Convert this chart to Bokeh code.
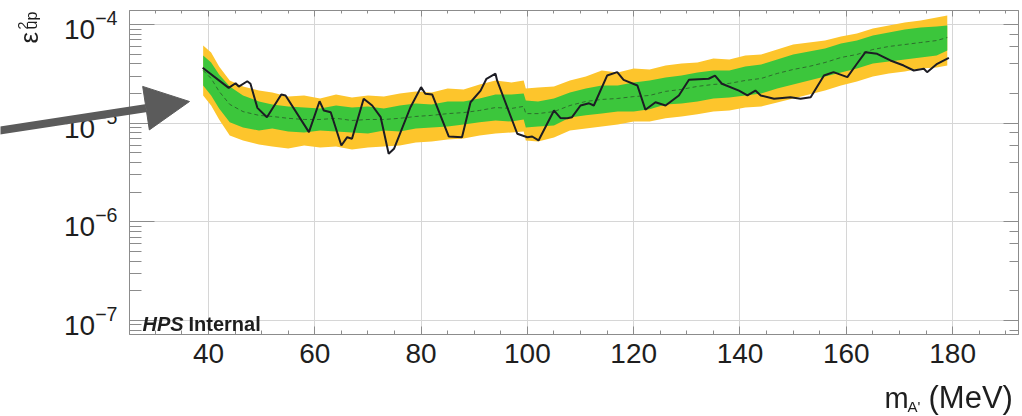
import numpy as np
from bokeh.plotting import figure
from bokeh.models import (LinearAxis, SingleIntervalTicker, LogTicker, CustomJSTickFormatter,
                          Label, Arrow, NormalHead, Range1d)
from bokeh.embed import file_html
from bokeh.resources import INLINE

# ---------------- data (epsilon^2 values in units of 1e-5) ----------------
mass_exp = [39.0, 40.5, 42.0, 44.0, 46.5, 49.5, 52.0, 55.0, 58.0, 61.0, 64.0, 67.0,
            70.0, 73.0, 76.0, 79.0, 82.0, 85.0, 88.0, 91.0, 94.0, 97.0, 99.3, 99.7,
            102.0, 105.0, 108.0, 111.0, 114.0, 117.0, 120.0, 123.0, 126.0, 129.0,
            132.0, 135.0, 138.0, 141.0, 144.0, 147.0, 150.0, 153.0, 156.0, 159.0,
            162.0, 165.0, 168.0, 171.0, 174.0, 177.0, 179.0]
yellow_hi = [6.13, 5.20, 3.76, 2.71, 2.36, 2.14, 2.05, 1.86, 1.91, 1.78, 1.95, 1.82,
             1.91, 1.86, 2.00, 2.10, 2.05, 2.25, 2.20, 2.47, 2.71, 2.59, 2.71, 2.25,
             2.30, 2.36, 2.71, 2.97, 3.42, 3.27, 3.59, 3.50, 3.84, 4.03,
             4.12, 4.53, 4.42, 4.85, 4.97, 5.58, 6.27, 6.57, 6.88, 7.56,
             8.11, 9.11, 9.77, 10.48, 10.98, 11.78, 12.34]
green_hi = [4.85, 4.12, 3.12, 2.36, 1.91, 1.66, 1.55, 1.48, 1.44, 1.41, 1.51, 1.44,
            1.48, 1.41, 1.51, 1.58, 1.55, 1.66, 1.66, 1.78, 1.95, 1.95, 2.00, 1.70,
            1.66, 1.78, 2.05, 2.25, 2.41, 2.41, 2.59, 2.71, 2.91, 3.04,
            3.27, 3.42, 3.42, 3.76, 3.94, 4.42, 4.97, 5.33, 5.71, 6.42,
            6.88, 7.74, 8.30, 8.90, 9.33, 9.55, 9.77]
median = [3.42, 2.84, 2.10, 1.55, 1.31, 1.20, 1.17, 1.12, 1.09, 1.09, 1.12, 1.065,
          1.09, 1.09, 1.12, 1.17, 1.20, 1.25, 1.28, 1.345, 1.44, 1.41, 1.48, 1.25,
          1.25, 1.31, 1.51, 1.66, 1.74, 1.78, 1.86, 1.91, 2.10, 2.20,
          2.36, 2.47, 2.53, 2.71, 2.84, 3.19, 3.50, 3.76, 4.12, 4.63,
          4.97, 5.58, 5.99, 6.27, 6.57, 6.88, 7.39]
green_lo = [2.41, 1.91, 1.41, 1.02, 0.905, 0.843, 0.884, 0.824, 0.805, 0.843, 0.824, 0.805,
            0.786, 0.843, 0.824, 0.884, 0.905, 0.926, 0.97, 1.02, 1.065, 1.04, 1.09, 0.905,
            0.926, 0.948, 1.14, 1.20, 1.25, 1.31, 1.31, 1.38, 1.55, 1.58,
            1.66, 1.78, 1.82, 1.91, 2.00, 2.25, 2.47, 2.71, 2.97, 3.27,
            3.59, 4.03, 4.22, 4.42, 4.63, 4.85, 5.45]
yellow_lo = [1.91, 1.51, 1.09, 0.750, 0.668, 0.608, 0.581, 0.554, 0.594, 0.567, 0.581, 0.541,
             0.567, 0.581, 0.594, 0.637, 0.652, 0.684, 0.700, 0.750, 0.786, 0.805, 0.824, 0.668,
             0.652, 0.716, 0.843, 0.884, 0.926, 0.97, 1.04, 1.04, 1.12, 1.17,
             1.23, 1.31, 1.345, 1.44, 1.48, 1.62, 1.78, 1.95, 2.14, 2.41,
             2.65, 2.97, 3.19, 3.34, 3.59, 3.67, 3.84]

mass_obs = [38.9, 43.8, 45.1, 45.7, 47.3, 47.9, 49.2, 51.0, 53.7, 54.5, 58.9, 60.9,
            61.7, 63.0, 65.0, 66.1, 67.0, 69.2, 70.8, 72.4, 73.9, 74.9, 78.0, 80.0,
            80.8, 82.1, 85.2, 87.7, 89.3, 91.2, 92.3, 94.0, 94.3, 98.1, 100.0, 100.9,
            102.1, 105.0, 106.2, 107.5, 108.4, 110.0, 111.6, 112.5, 115.0, 116.9, 118.1,
            120.7, 122.2, 124.1, 126.0, 128.5, 130.4, 134.1, 135.3, 136.6, 139.8,
            141.4, 142.9, 143.9, 146.4, 149.5, 151.4, 153.3, 155.8, 157.6, 160.2,
            162.0, 163.6, 165.8, 168.3, 170.8, 172.7, 174.6, 175.2, 177.1, 179.3]
observed = [3.64, 2.28, 2.54, 2.35, 2.66, 2.51, 1.43, 1.15, 1.95, 1.91, 0.811, 1.67,
            1.345, 1.29, 0.594, 0.721, 0.695, 1.77, 1.51, 1.15, 0.490, 0.550, 1.45, 2.32,
            1.99, 1.95, 0.733, 0.721, 1.63, 2.14, 2.82, 3.17, 2.71, 0.781, 0.721, 0.733,
            0.668, 1.345, 1.13, 1.12, 1.15, 1.51, 1.59, 1.51, 3.04, 3.29, 2.75,
            2.41, 1.37, 1.63, 1.51, 1.91, 2.75, 2.82, 3.04, 2.51, 2.14,
            1.91, 2.14, 1.91, 1.77, 1.83, 1.77, 1.83, 3.04, 3.29, 2.93,
            4.00, 5.24, 5.05, 4.32, 3.84, 3.42, 3.56, 3.29, 4.00, 4.60]

UNIT = 1e-5
x_tick_interval = 20

# ---------------- main figure ----------------
W, H = 1022, 416
X0, X1 = 25.14, 192.4
Y0, Y1 = 7.21e-8, 1.387e-4
FL, FR, FT, FB = 129, 1018, 10, 334      # frame edges on the page (px)

fig = figure(width=W, height=H, x_range=Range1d(X0, X1), y_range=Range1d(Y0, Y1),
             y_axis_type="log", output_backend="svg", toolbar_location=None,
             min_border_left=FL, min_border_right=W - FR, min_border_top=FT,
             min_border_bottom=H - FB)
fig.outline_line_color = "#9a9a9a"
fig.background_fill_color = "white"
fig.border_fill_color = "white"

me = np.array(mass_exp)
fig.varea(me, np.array(yellow_lo) * UNIT, np.array(yellow_hi) * UNIT, fill_color="#fdc52c")
fig.varea(me, np.array(green_lo) * UNIT, np.array(green_hi) * UNIT, fill_color="#3cc63c")
fig.line(me, np.array(median) * UNIT, line_color="#2e6e2e", line_width=1, line_dash="4 3")
fig.line(np.array(mass_obs), np.array(observed) * UNIT, line_color="#1c1c24", line_width=2)

xt = SingleIntervalTicker(interval=x_tick_interval, num_minor_ticks=4)
axis_grey = "#8c8c8c"
xa = fig.xaxis[0]
xa.ticker = xt
xa.major_tick_in, xa.major_tick_out = 8, 0
xa.minor_tick_in, xa.minor_tick_out = 4, 0
xa.major_label_standoff = 9
ya = fig.yaxis[0]
ya.major_tick_in, ya.major_tick_out = 25, 0
ya.minor_tick_in, ya.minor_tick_out = 12, 0
ya.major_label_standoff = 12
for ax in (xa, ya):
    ax.axis_line_color = axis_grey
    ax.major_tick_line_color = axis_grey
    ax.minor_tick_line_color = axis_grey
    ax.major_label_text_font = "Liberation Sans"
    ax.major_label_text_font_size = "28px"
    ax.major_label_text_color = "#1e1e1e"

blank = CustomJSTickFormatter(code="return ''")
top = LinearAxis(ticker=xt, formatter=blank, major_tick_in=6, major_tick_out=0,
                 minor_tick_in=3, minor_tick_out=0,
                 major_label_text_font_size="0px", major_label_standoff=0,
                 axis_line_color=axis_grey, major_tick_line_color=axis_grey,
                 minor_tick_line_color=axis_grey)
fig.add_layout(top, "above")
right = LinearAxis(ticker=LogTicker(), formatter=blank, major_tick_in=15, major_tick_out=0,
                   minor_tick_in=9, minor_tick_out=0,
                   major_label_text_font_size="0px", major_label_standoff=0,
                   axis_line_color=axis_grey, major_tick_line_color=axis_grey,
                   minor_tick_line_color=axis_grey)
fig.add_layout(right, "right")

fig.xgrid.ticker = xt
fig.xgrid.grid_line_color = "#d6d6d6"
fig.ygrid.grid_line_color = "#d6d6d6"

# ---------------- transparent overlay (page pixels) for texts outside the frame ----------------
ov = figure(width=W, height=H, x_range=Range1d(0, W), y_range=Range1d(H, 0),
            output_backend="svg", toolbar_location=None,
            x_axis_location=None, y_axis_location=None,
            min_border_left=0, min_border_right=0, min_border_top=0, min_border_bottom=0,
            styles={"position": "fixed", "top": "0px", "left": "0px"})
ov.outline_line_color = None
ov.background_fill_color = None
ov.border_fill_color = None
ov.grid.visible = False

font = "Liberation Sans"
def lab(ix, iy, text, size, **kw):
    ov.add_layout(Label(x=ix, y=iy, text=text, text_font=font, text_font_size=size,
                        text_color="#1e1e1e", **kw))

lab(884, 397, "m", "29px", text_baseline="alphabetic")
lab(907, 406, "A'", "15px", text_baseline="alphabetic")
lab(928, 397, "(MeV)", "31px", text_baseline="alphabetic")

lab(28, 43, "ε", "26px", angle=float(np.pi / 2), text_baseline="alphabetic")
lab(22, 29, "2", "14px", angle=float(np.pi / 2), text_baseline="alphabetic")
lab(31, 29, "up", "16px", angle=float(np.pi / 2), text_baseline="alphabetic")

lab(142, 323, "HPS", "20px", text_font_style="bold italic", text_baseline="alphabetic")
lab(188, 323, "Internal", "20px", text_font_style="bold", text_baseline="alphabetic")

arrow_grey = "#5b5b5b"
ov.add_layout(Arrow(end=NormalHead(size=44, fill_color=arrow_grey, line_color=arrow_grey),
                    x_start=-10, y_start=131.5, x_end=189, y_end=101,
                    line_width=8, line_color=arrow_grey))

p = [fig, ov]
open("out.html", "w").write(file_html(p, INLINE))
